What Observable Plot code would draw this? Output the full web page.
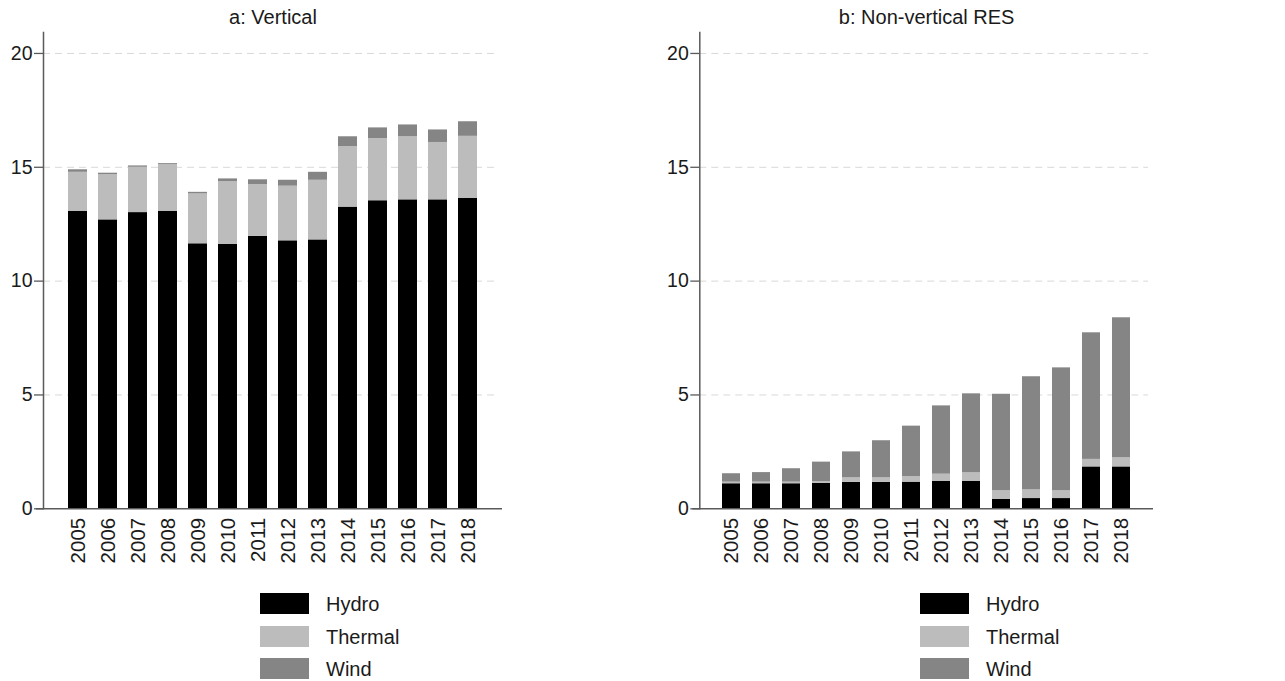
<!DOCTYPE html>
<html>
<head>
<meta charset="utf-8">
<script src="https://cdn.jsdelivr.net/npm/d3@7"></script>
<script src="https://cdn.jsdelivr.net/npm/@observablehq/plot@0.6"></script>
<style>
  html, body { margin: 0; padding: 0; background: #fff; }
  body { width: 1285px; height: 681px; position: relative; overflow: hidden;
         font-family: "Liberation Sans", Arial, sans-serif; }
  .panel { position: absolute; top: 0; }
  .legend { position: absolute; top: 593px; }
  .legend .row { display: flex; align-items: center; height: 21px; margin-bottom: 11.5px; }
  .legend .sw { width: 49px; height: 21px; }
  .legend .lb { margin-left: 17px; font-size: 20px; color: #1a1a1a; line-height: 21px; padding-top: 2px; }
</style>
</head>
<body>
<div id="a" class="panel" style="left:0px"></div>
<div id="b" class="panel" style="left:640px"></div>
<div id="la" class="legend" style="left:260px"></div>
<div id="lb" class="legend" style="left:920px"></div>
<script>
const years = ["2005","2006","2007","2008","2009","2010","2011","2012","2013","2014","2015","2016","2017","2018"];
const seriesNames = ["Hydro", "Thermal", "Wind"];
const seriesColors = ["#000000", "#bcbcbc", "#858585"];
const yTicks = [0, 5, 10, 15, 20];

// Panel a: Vertical
const verticalHydro   = [13.07, 12.69, 13.01, 13.07, 11.64, 11.61, 11.97, 11.77, 11.81, 13.25, 13.53, 13.57, 13.57, 13.64];
const verticalThermal = [1.71, 1.99, 1.99, 2.04, 2.19, 2.76, 2.27, 2.40, 2.62, 2.66, 2.73, 2.77, 2.52, 2.72];
const verticalWind    = [0.11, 0.06, 0.06, 0.05, 0.07, 0.12, 0.21, 0.26, 0.35, 0.43, 0.47, 0.52, 0.55, 0.64];

// Panel b: Non-vertical RES
const nonVerticalHydro   = [1.10, 1.10, 1.10, 1.12, 1.16, 1.16, 1.17, 1.20, 1.21, 0.42, 0.45, 0.45, 1.84, 1.84];
const nonVerticalThermal = [0.07, 0.07, 0.07, 0.07, 0.20, 0.20, 0.24, 0.32, 0.37, 0.37, 0.38, 0.34, 0.33, 0.40];
const nonVerticalWind    = [0.37, 0.42, 0.59, 0.86, 1.14, 1.63, 2.22, 3.00, 3.47, 4.24, 4.97, 5.40, 5.56, 6.15];

function table(h, t, w) {
  const rows = [];
  const vals = [h, t, w];
  years.forEach((yr, i) => {
    seriesNames.forEach((s, k) => rows.push({year: yr, series: s, value: vals[k][i]}));
  });
  return rows;
}

const FONT = '"Liberation Sans", Arial, sans-serif';
const AXIS = "#5a5a5a";

function panel(data, title, o) {
  return Plot.plot({
    width: o.width,
    height: 580,
    marginTop: 32,
    marginBottom: 71.7,
    marginLeft: o.ml,
    marginRight: o.mr,
    style: {fontFamily: FONT, color: "#1a1a1a", background: "#fff"},
    x: {domain: years, padding: o.pad, insetLeft: o.il, insetRight: o.ir, axis: null, label: null},
    y: {domain: [0, 20.92], axis: null, label: null},
    color: {domain: seriesNames, range: seriesColors},
    marks: [
      Plot.gridY(yTicks.filter(d => d > 0), {stroke: "#d8d8d8", strokeOpacity: 1, strokeDasharray: "7,5", insetRight: 5}),
      Plot.barY(data, Plot.stackY({x: "year", y: "value", fill: "series", order: seriesNames})),
      Plot.axisY(yTicks, {tickSize: 9, tickPadding: 2, fontSize: 19.5, stroke: AXIS, strokeWidth: 1.3, label: null}),
      Plot.axisX({tickRotate: -90, tickSize: 0, tickPadding: 9, fontSize: 20.5, label: null}),
      Plot.frame({anchor: "left", stroke: AXIS, strokeWidth: 1.5}),
      Plot.ruleY([0], {stroke: AXIS, strokeWidth: 1.5, insetLeft: -7}),
      Plot.text([title], {frameAnchor: "top", lineAnchor: "middle", dy: -15, fontSize: 20, fill: "#1a1a1a"})
    ]
  });
}

document.getElementById("a").append(
  panel(table(verticalHydro, verticalThermal, verticalWind), "a: Vertical",
        {width: 640, ml: 43, mr: 138, pad: 0.38, il: 8.5, ir: 9.8}));
document.getElementById("b").append(
  panel(table(nonVerticalHydro, nonVerticalThermal, nonVerticalWind), "b: Non-vertical RES",
        {width: 645, ml: 59.3, mr: 132, pad: 0.39, il: 8.3, ir: 8.4}));

function legend(id) {
  const el = document.getElementById(id);
  seriesNames.forEach((s, i) => {
    const row = document.createElement("div");
    row.className = "row";
    const sw = document.createElement("div");
    sw.className = "sw";
    sw.style.background = seriesColors[i];
    const lb = document.createElement("div");
    lb.className = "lb";
    lb.textContent = s;
    row.append(sw, lb);
    el.append(row);
  });
}
legend("la");
legend("lb");
</script>
</body>
</html>
